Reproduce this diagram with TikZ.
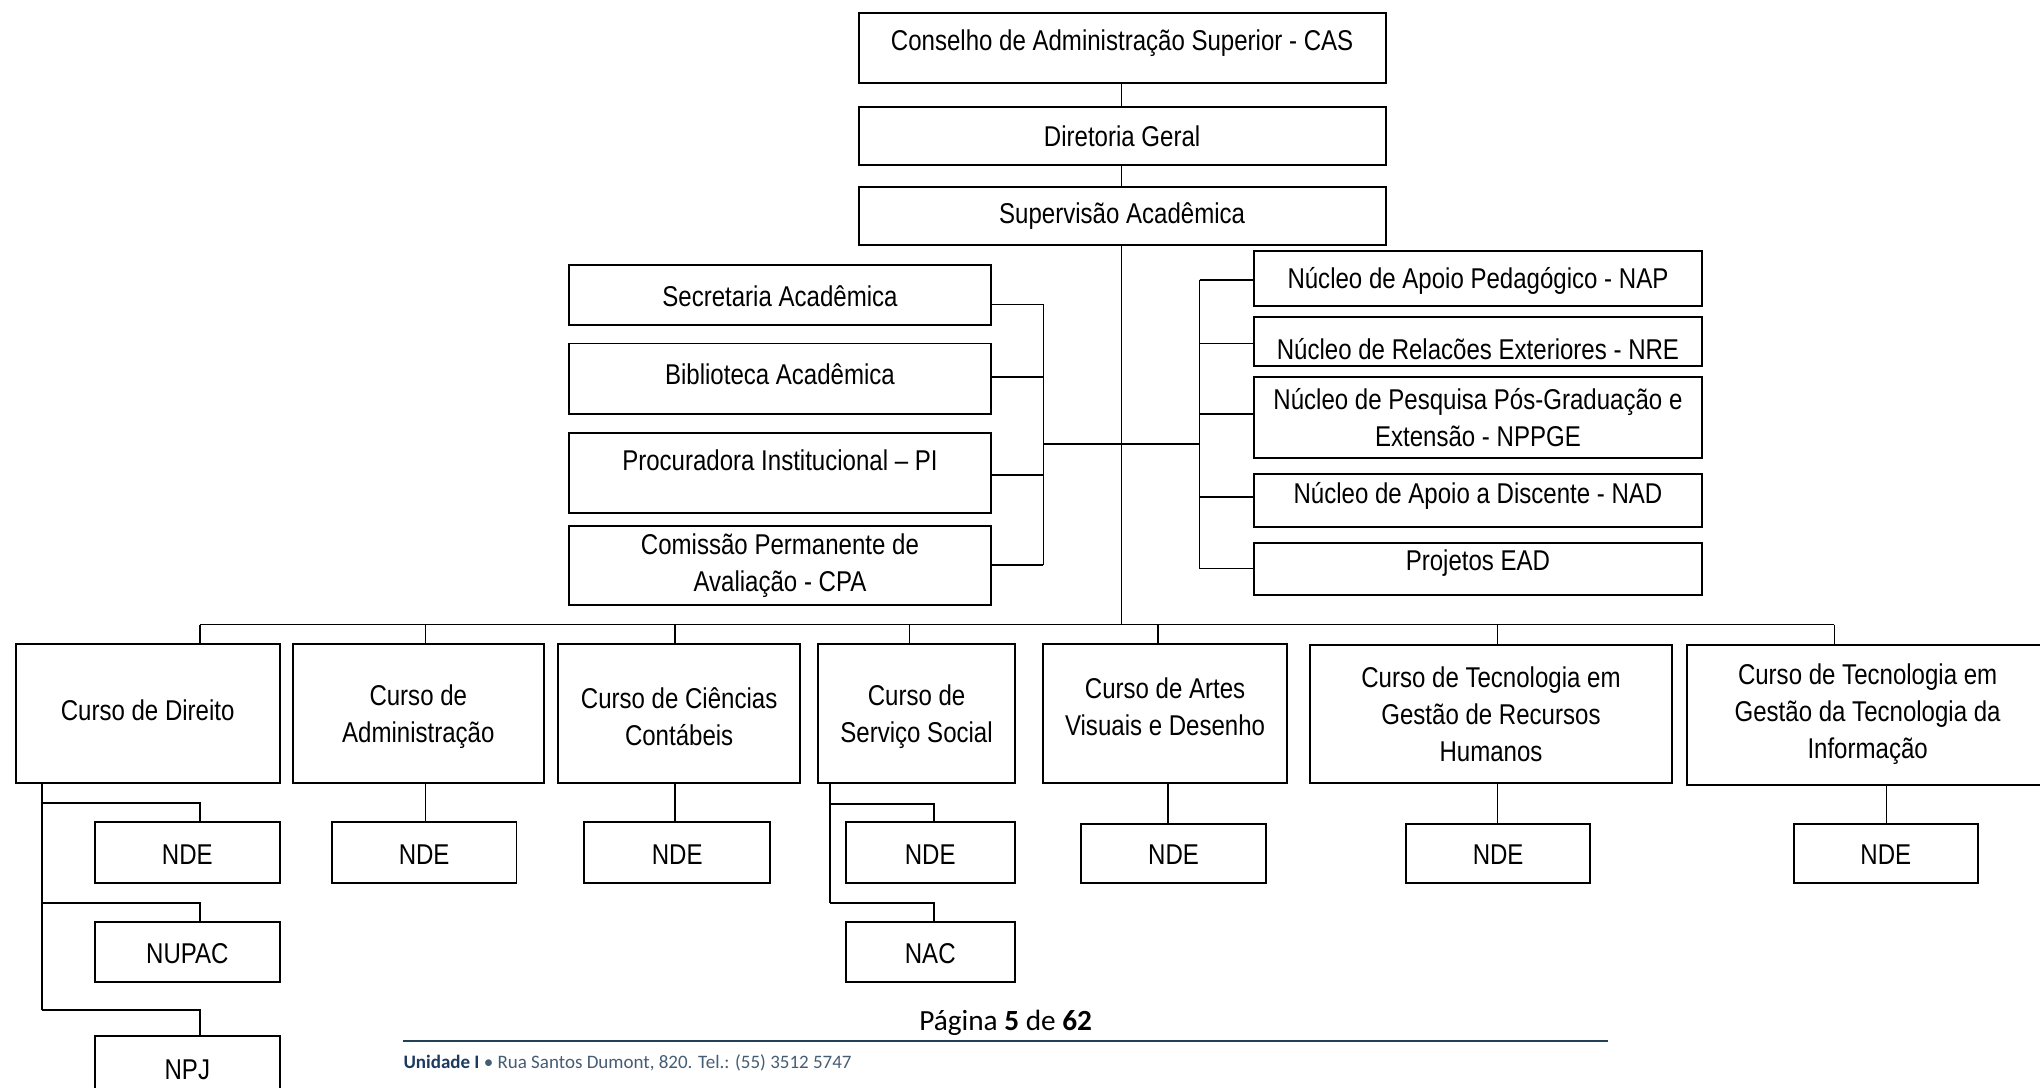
\documentclass[tikz,border=0pt]{standalone}
\usepackage{fontspec}
\setmainfont{Liberation Sans}[FakeStretch=0.84]
\newfontfamily\footfont{Carlito}
\definecolor{footline}{RGB}{35,66,88}
\definecolor{footdark}{RGB}{28,58,96}
\definecolor{footgrey}{RGB}{70,92,115}
\newcommand\orgbox[7]{%
  \node[bx, minimum width={#4-#2}, minimum height={#5-#3}] (#1) at ({(#2+#4)/2},{(#3+#5)/2}) {};
  \node[tx] (#1t) at ({(#2+#4)/2},#6) {#7};
}
\begin{document}
\begin{tikzpicture}[x=1pt,y=-1pt,
  bx/.style={draw, line width=1.5pt, rectangle, inner sep=0pt, outer sep=0pt},
  tx/.style={font=\fontsize{22}{28.5}\selectfont, align=center, inner sep=0pt},
  ln/.style={line width=1.4pt}]
\useasboundingbox (0,0) rectangle (1568,836);

% top chain
\orgbox{cas}{660}{10}{1065}{64}{33}{Conselho de Administração Superior - CAS}
\orgbox{dg}{660}{82}{1065}{127}{105}{Diretoria Geral}
\orgbox{sup}{660}{144}{1065}{188}{166}{Supervisão Acadêmica}

% left staff group
\orgbox{sec}{437}{204}{762}{250}{228}{Secretaria Acadêmica}
\orgbox{bib}{437}{264}{762}{318}{288}{Biblioteca Acadêmica}
\orgbox{pro}{437}{333}{762}{394}{354}{Procuradora Institucional – PI}
\orgbox{cpa}{437}{404}{762}{465}{435}{Comissão Permanente de\\Avaliação - CPA}

% right staff group
\orgbox{nap}{964}{193}{1308}{235}{216}{Núcleo de Apoio Pedagógico - NAP}
\orgbox{nre}{964}{244}{1308}{281}{268}{Núcleo de Relacões Exteriores - NRE}
\orgbox{npp}{964}{290}{1308}{352}{321}{Núcleo de Pesquisa Pós-Graduação e\\Extensão - NPPGE}
\orgbox{nad}{964}{364}{1308}{405}{381}{Núcleo de Apoio a Discente - NAD}
\orgbox{ead}{964}{417}{1308}{457}{433}{Projetos EAD}

% courses
\orgbox{c1}{12}{495}{215}{602}{546}{Curso de Direito}
\orgbox{c2}{225}{495}{418}{602}{551}{Curso de\\Administração}
\orgbox{c3}{429}{495}{615}{602}{551}{Curso de Ciências\\Contábeis}
\orgbox{c4}{629}{495}{780}{602}{551}{Curso de\\Serviço Social}
\orgbox{c5}{802}{495}{989}{602}{543}{Curso de Artes\\Visuais e Desenho}
\orgbox{c6}{1007}{496}{1285}{602}{549}{Curso de Tecnologia em\\Gestão de Recursos\\Humanos}
\orgbox{c7}{1297}{496}{1574}{603}{549}{Curso de Tecnologia em\\Gestão da Tecnologia da\\Informação}

% sub units
\orgbox{n1}{73}{632}{215}{679}{657}{NDE}
\orgbox{nupac}{73}{709}{215}{755}{733}{NUPAC}
\orgbox{npj}{73}{796}{215}{860}{822}{NPJ}
\orgbox{n2}{255}{632}{397}{679}{657}{NDE}
\orgbox{n3}{449}{632}{592}{679}{657}{NDE}
\orgbox{n4}{650}{632}{780}{679}{657}{NDE}
\orgbox{nac}{650}{709}{780}{755}{733}{NAC}
\orgbox{n5}{831}{633}{973}{679}{657}{NDE}
\orgbox{n6}{1081}{633}{1222}{679}{657}{NDE}
\orgbox{n7}{1379}{633}{1520}{679}{657}{NDE}

% connector coordinates
\coordinate (trunk) at (862,480);
\coordinate (busL) at (154,480);
\coordinate (busR) at (1410,480);
\coordinate (jL) at (802,341);
\coordinate (jR) at (922,341);
\coordinate (l1) at (802,234);
\coordinate (l2) at (802,290);
\coordinate (l3) at (802,365);
\coordinate (l4) at (802,434);
\coordinate (r1) at (922,215);
\coordinate (r2) at (922,264);
\coordinate (r3) at (922,318);
\coordinate (r4) at (922,382);
\coordinate (r5) at (922,437);
\coordinate (d2) at (327,480);
\coordinate (d3) at (519,480);
\coordinate (d4) at (699,480);
\coordinate (d5) at (890,480);
\coordinate (d6) at (1151,480);
\coordinate (s1) at (32,602);
\coordinate (s1a) at (32,617);
\coordinate (s1b) at (32,694);
\coordinate (s1c) at (32,776);
\coordinate (s4) at (638,602);
\coordinate (s4a) at (638,618);
\coordinate (s4b) at (638,694);
\coordinate (k2) at (327,602);
\coordinate (k3) at (519,602);
\coordinate (k5) at (898,602);
\coordinate (k6) at (1151,602);
\coordinate (k7) at (1450,603);
\coordinate (t1) at (154,0);
\coordinate (t4) at (718,0);

% top chain links
\draw[ln] (cas.south -| trunk) -- (dg.north -| trunk);
\draw[ln] (dg.south -| trunk) -- (sup.north -| trunk);
\draw[ln] (sup.south -| trunk) -- (trunk);

% staff brackets
\draw[ln] (l1) -- (l4);
\draw[ln] (sec.east |- l1) -- (l1);
\draw[ln] (bib.east |- l2) -- (l2);
\draw[ln] (pro.east |- l3) -- (l3);
\draw[ln] (cpa.east |- l4) -- (l4);
\draw[ln] (jL) -- (jR);
\draw[ln] (r1) -- (r5);
\draw[ln] (r1) -- (nap.west |- r1);
\draw[ln] (r2) -- (nre.west |- r2);
\draw[ln] (r3) -- (npp.west |- r3);
\draw[ln] (r4) -- (nad.west |- r4);
\draw[ln] (r5) -- (ead.west |- r5);

% course bus
\draw[ln] (busL) -- (busR);
\draw[ln] (busL) -- (busL |- c1.north);
\draw[ln] (d2) -- (d2 |- c2.north);
\draw[ln] (d3) -- (d3 |- c3.north);
\draw[ln] (d4) -- (d4 |- c4.north);
\draw[ln] (d5) -- (d5 |- c5.north);
\draw[ln] (d6) -- (d6 |- c6.north);
\draw[ln] (busR) -- (busR |- c7.north);

% Direito sub units
\draw[ln] (s1) -- (s1c);
\draw[ln] (s1a) -| (t1 |- n1.north);
\draw[ln] (s1b) -| (t1 |- nupac.north);
\draw[ln] (s1c) -| (t1 |- npj.north);
% simple drops
\draw[ln] (k2) -- (k2 |- n2.north);
\draw[ln] (k3) -- (k3 |- n3.north);
\draw[ln] (k5) -- (k5 |- n5.north);
\draw[ln] (k6) -- (k6 |- n6.north);
\draw[ln] (k7) -- (k7 |- n7.north);
% Servico Social sub units
\draw[ln] (s4) -- (s4b);
\draw[ln] (s4a) -| (t4 |- n4.north);
\draw[ln] (s4b) -| (t4 |- nac.north);

% footer
\node[font=\footfont\fontsize{22.5}{26}\selectfont, inner sep=0pt] (pag) at (773,786) {Página \textbf{5} de \textbf{62}};
\coordinate (fl1) at (310,800);
\coordinate (fl2) at (1236,800);
\draw[footline, line width=1.8pt] (fl1) -- (fl2);
\node[font=\footfont\fontsize{14.6}{18}\selectfont, anchor=west, inner sep=0pt, text=footgrey] (unid) at (310,817) {\textcolor{footdark}{\textbf{Unidade I}} • Rua Santos Dumont, 820. Tel.: (55) 3512 5747};
\end{tikzpicture}
\end{document}
